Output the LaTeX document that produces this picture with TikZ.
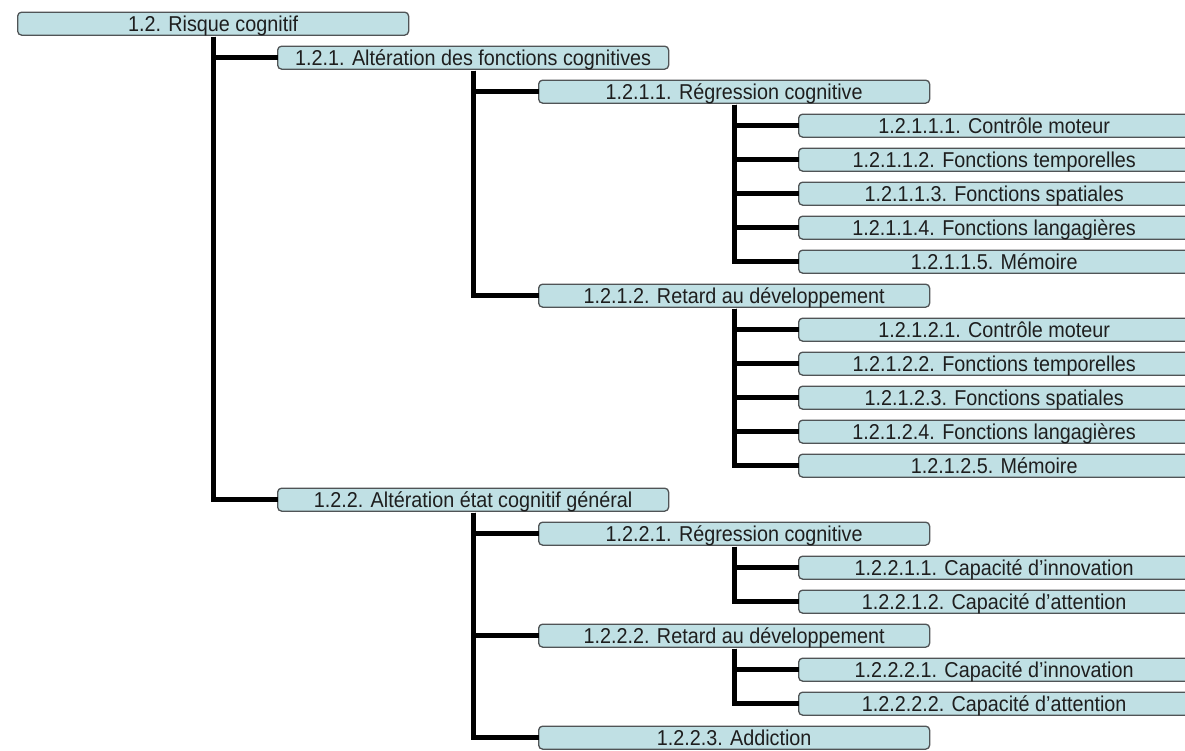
\documentclass[tikz,border=0pt]{standalone}
\usepackage{fontspec}
\setmainfont{Liberation Sans}[FakeStretch=0.92]
\definecolor{boxfill}{RGB}{192,224,228}
\definecolor{boxline}{RGB}{80,84,86}
\definecolor{txt}{RGB}{30,30,30}
\tikzset{
  box/.style={draw=boxline, line width=1.3pt, fill=boxfill, rounded corners=4pt,
    anchor=north west, minimum width=391pt, minimum height=23pt, inner sep=0pt,
    text height=16.5pt, text depth=1.5pt,
    font=\fontsize{21.5pt}{23pt}\selectfont, text=txt},
  conn/.style={line width=5pt, black}
}
\begin{document}
\begin{tikzpicture}[x=1pt,y=-1pt]
\useasboundingbox (0,0) rectangle (1185,750);
\fill[white] (0,0) rectangle (1185,750);
\clip (0,0) rectangle (1185,750);
% level 0
\node[box] (r) at (17,11.5) {1.2. Risque cognitif};
% level 1
\node[box] (a) at (277,45.5) {1.2.1. Altération des fonctions cognitives};
\node[box] (b) at (277,487.5) {1.2.2. Altération état cognitif général};
% level 2
\node[box] (a1) at (538,79.5) {1.2.1.1. Régression cognitive};
\node[box] (a2) at (538,283.5) {1.2.1.2. Retard au développement};
\node[box] (b1) at (538,521.5) {1.2.2.1. Régression cognitive};
\node[box] (b2) at (538,623.5) {1.2.2.2. Retard au développement};
\node[box] (b3) at (538,725.5) {1.2.2.3. Addiction};
% level 3
\node[box] (a11) at (798,113.5) {1.2.1.1.1. Contrôle moteur};
\node[box] (a12) at (798,147.5) {1.2.1.1.2. Fonctions temporelles};
\node[box] (a13) at (798,181.5) {1.2.1.1.3. Fonctions spatiales};
\node[box] (a14) at (798,215.5) {1.2.1.1.4. Fonctions langagières};
\node[box] (a15) at (798,249.5) {1.2.1.1.5. Mémoire};
\node[box] (a21) at (798,317.5) {1.2.1.2.1. Contrôle moteur};
\node[box] (a22) at (798,351.5) {1.2.1.2.2. Fonctions temporelles};
\node[box] (a23) at (798,385.5) {1.2.1.2.3. Fonctions spatiales};
\node[box] (a24) at (798,419.5) {1.2.1.2.4. Fonctions langagières};
\node[box] (a25) at (798,453.5) {1.2.1.2.5. Mémoire};
\node[box] (b11) at (798,555.5) {1.2.2.1.1. Capacité d’innovation};
\node[box] (b12) at (798,589.5) {1.2.2.1.2. Capacité d’attention};
\node[box] (b21) at (798,657.5) {1.2.2.2.1. Capacité d’innovation};
\node[box] (b22) at (798,691.5) {1.2.2.2.2. Capacité d’attention};
% connectors
\foreach \p/\c in {r/a, r/b, a/a1, a/a2, b/b1, b/b2, b/b3,
  a1/a11, a1/a12, a1/a13, a1/a14, a1/a15,
  a2/a21, a2/a22, a2/a23, a2/a24, a2/a25,
  b1/b11, b1/b12, b2/b21, b2/b22}
  \draw[conn] ([yshift=-0.7pt]\p.south) |- ([xshift=0.7pt]\c.west);
\end{tikzpicture}
\end{document}
